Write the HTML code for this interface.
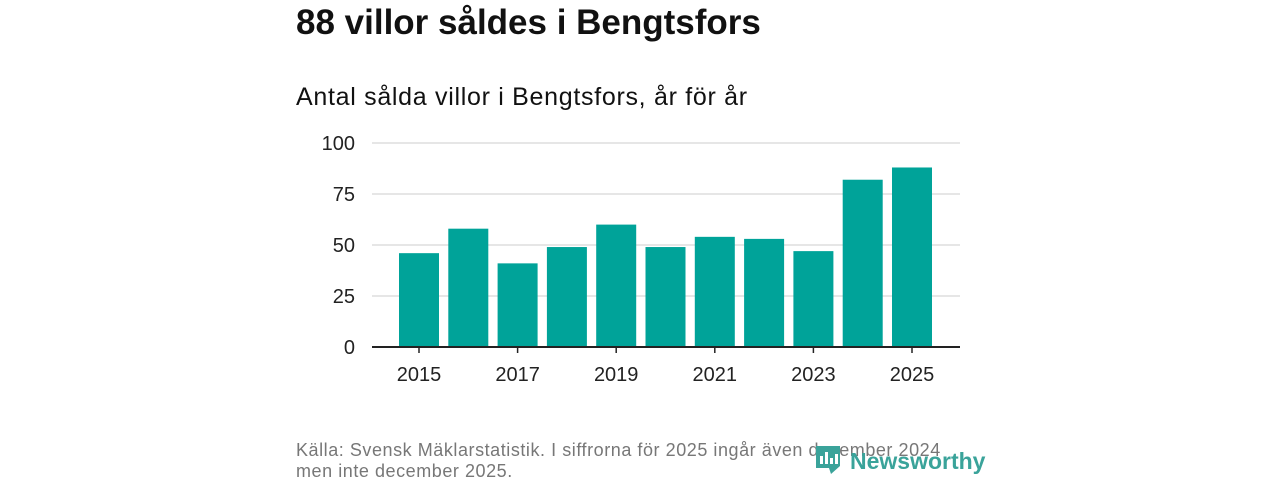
<!DOCTYPE html>
<html><head><meta charset="utf-8"><style>
body{margin:0;width:1280px;height:480px;background:#fff;font-family:"Liberation Sans","DejaVu Sans",sans-serif;position:relative;overflow:hidden}
.t{position:absolute;left:296px;top:3px;font-size:35px;font-weight:bold;color:#111}
.s{position:absolute;left:296px;top:83px;font-size:25px;letter-spacing:0.7px;color:#111}
.f{position:absolute;left:296px;top:440px;font-size:18px;letter-spacing:0.55px;color:#777;line-height:21px}
</style></head><body>
<div class="t">88 villor såldes i Bengtsfors</div>
<div class="s">Antal sålda villor i Bengtsfors, år för år</div>
<svg id="c" width="1280" height="480" style="position:absolute;left:0;top:0"></svg>
<div class="f">Källa: Svensk Mäklarstatistik. I siffrorna för 2025 ingår även december 2024<br>men inte december 2025.</div>
<svg width="200" height="40" style="position:absolute;left:813px;top:442px">
<path d="M3 4h24v20l-9 8l-2-6h-13z" fill="#3aa39a"/>
<rect x="7" y="14" width="3" height="8" fill="#fff"/><rect x="12" y="10" width="3" height="12" fill="#fff"/><rect x="17" y="16" width="3" height="6" fill="#fff"/><rect x="22" y="12" width="3" height="10" fill="#fff"/>
<text x="37" y="27" font-size="23" font-weight="bold" fill="#3aa39a" font-family="Liberation Sans, sans-serif">Newsworthy</text>
</svg>
<script>
const years=[2015,2016,2017,2018,2019,2020,2021,2022,2023,2024,2025];
const values=[46,58,41,49,60,49,54,53,47,82,88];
const yTicks=[0,25,50,75,100];
const svg=document.getElementById('c');const NS='http://www.w3.org/2000/svg';
const x0=372,x1=960,y0=347,y1=143;
const X=i=>419+i*49.3;
const Y=v=>y0-(v/100)*(y0-y1);
function mk(t,a){const e=document.createElementNS(NS,t);for(const k in a)e.setAttribute(k,a[k]);svg.appendChild(e);return e;}
yTicks.forEach(v=>{
 if(v>0){const l=mk('line',{x1:x0,x2:x1,y1:Y(v),y2:Y(v),stroke:'#ddd','stroke-width':1.5});
 
 }
 const t=mk('text',{x:355,y:Y(v)+7,'text-anchor':'end','font-size':20,fill:'#222'});t.textContent=v;
 
 
});
years.forEach((yr,i)=>{
 const b=mk('rect',{x:X(i)-20,y:Y(values[i]),width:40,height:y0-Y(values[i]),fill:'#00a399'});
 
 
 if(i%2==0){
  mk('line',{x1:X(i),x2:X(i),y1:y0,y2:y0+6,stroke:'#222','stroke-width':1.5});
  const t=mk('text',{x:X(i),y:381,'text-anchor':'middle','font-size':20,fill:'#222'});t.textContent=yr;
  
  
 }
});
const ax=mk('line',{x1:x0,x2:x1,y1:y0,y2:y0,stroke:'#222','stroke-width':2});


</script>
</body></html>
